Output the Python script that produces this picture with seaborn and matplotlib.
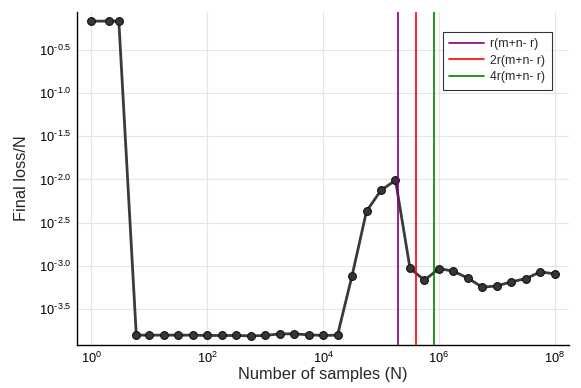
import numpy as np
import pandas as pd
import matplotlib
matplotlib.use("Agg")
import matplotlib.pyplot as plt
import seaborn as sns

# ---- data ----
n_samples = [1, 2, 3, 6, 10, 18, 32, 56, 100, 178, 316, 562, 1000, 1778, 3162,
             5623, 10000, 17783, 31623, 56234, 100000, 177828, 316228, 562341,
             1000000, 1778279, 3162278, 5623413, 10000000, 17782794, 31622777,
             56234133, 100000000]
log_loss = [-0.164, -0.164, -0.164, -3.806, -3.806, -3.806, -3.806, -3.806,
            -3.810, -3.810, -3.810, -3.814, -3.810, -3.791, -3.791, -3.802,
            -3.810, -3.806, -3.119, -2.369, -2.126, -2.010, -3.030, -3.169,
            -3.034, -3.064, -3.146, -3.250, -3.235, -3.188, -3.150, -3.072,
            -3.096]
final_loss = [10 ** v for v in log_loss]

vline_labels = ["r(m+n- r)", "2r(m+n- r)", "4r(m+n- r)"]
vline_values = [2.0e5, 4.0e5, 8.1e5]
vline_colors = ["#800080", "#ff0000", "#008000"]

xtick_values = [1e0, 1e2, 1e4, 1e6, 1e8]
xtick_labels = [r"$10^{0}$", r"$10^{2}$", r"$10^{4}$", r"$10^{6}$", r"$10^{8}$"]
ytick_exps = [-0.5, -1.0, -1.5, -2.0, -2.5, -3.0, -3.5]
ytick_labels = [r"$10^{\text{-}\,0.5}$", r"$10^{\text{-}\,1.0}$", r"$10^{\text{-}\,1.5}$",
                r"$10^{\text{-}\,2.0}$", r"$10^{\text{-}\,2.5}$", r"$10^{\text{-}\,3.0}$",
                r"$10^{\text{-}\,3.5}$"]

# ---- style ----
sns.set_style("white")
plt.rcParams["font.family"] = ["Liberation Sans", "DejaVu Sans"]
plt.rcParams["mathtext.fontset"] = "custom"
plt.rcParams["mathtext.rm"] = "Liberation Sans"
plt.rcParams["mathtext.it"] = "Liberation Sans"
plt.rcParams["mathtext.default"] = "regular"

fig = plt.figure(figsize=(5.81, 3.88), dpi=100)
ax = fig.add_axes([0.133, 0.110, 0.979 - 0.133, 0.970 - 0.110])
ax.set_xscale("log")
ax.set_yscale("log")

df = pd.DataFrame({"N": n_samples, "loss": final_loss})
sns.lineplot(data=df, x="N", y="loss", ax=ax, color="#3a3a3a", linewidth=2.0,
             marker="o", markersize=5.6, markerfacecolor="#363636",
             markeredgecolor="#111111", markeredgewidth=0.8,
             estimator=None, sort=False, legend=False, zorder=3)

for lab, val, col in zip(vline_labels, vline_values, vline_colors):
    ax.axvline(val, color=col, linewidth=1.2, label=lab, zorder=4)

ax.set_xlim(10 ** -0.24, 10 ** 8.24)
ax.set_ylim(10 ** -3.924, 10 ** -0.054)

ax.xaxis.set_major_locator(matplotlib.ticker.FixedLocator(xtick_values))
ax.xaxis.set_minor_locator(matplotlib.ticker.NullLocator())
ax.set_xticklabels(xtick_labels)
ax.yaxis.set_major_locator(matplotlib.ticker.FixedLocator([10 ** e for e in ytick_exps]))
ax.yaxis.set_minor_locator(matplotlib.ticker.NullLocator())
ax.set_yticklabels(ytick_labels)

ax.grid(True, color="#e5e5e5", linewidth=0.8)
ax.set_axisbelow(True)
for s in ["top", "right"]:
    ax.spines[s].set_visible(False)
for s in ["left", "bottom"]:
    ax.spines[s].set_color("black")
    ax.spines[s].set_linewidth(1.0)

ax.tick_params(axis="both", which="major", direction="in", length=5, width=0.8,
               color="black", labelsize=9.2, labelcolor="black", pad=4)

ax.set_xlabel("Number of samples (N)", fontsize=11.8, labelpad=1)
ax.set_ylabel("Final loss/N", fontsize=11.8, labelpad=7)

leg = ax.legend(loc="upper right", bbox_to_anchor=(0.966, 0.94), borderaxespad=0,
                fontsize=8.8, frameon=True, fancybox=False, edgecolor="black",
                handlelength=2.8, handletextpad=0.55, labelspacing=0.35,
                borderpad=0.55)
leg.get_frame().set_linewidth(0.8)

fig.savefig("out.png", dpi=100)
